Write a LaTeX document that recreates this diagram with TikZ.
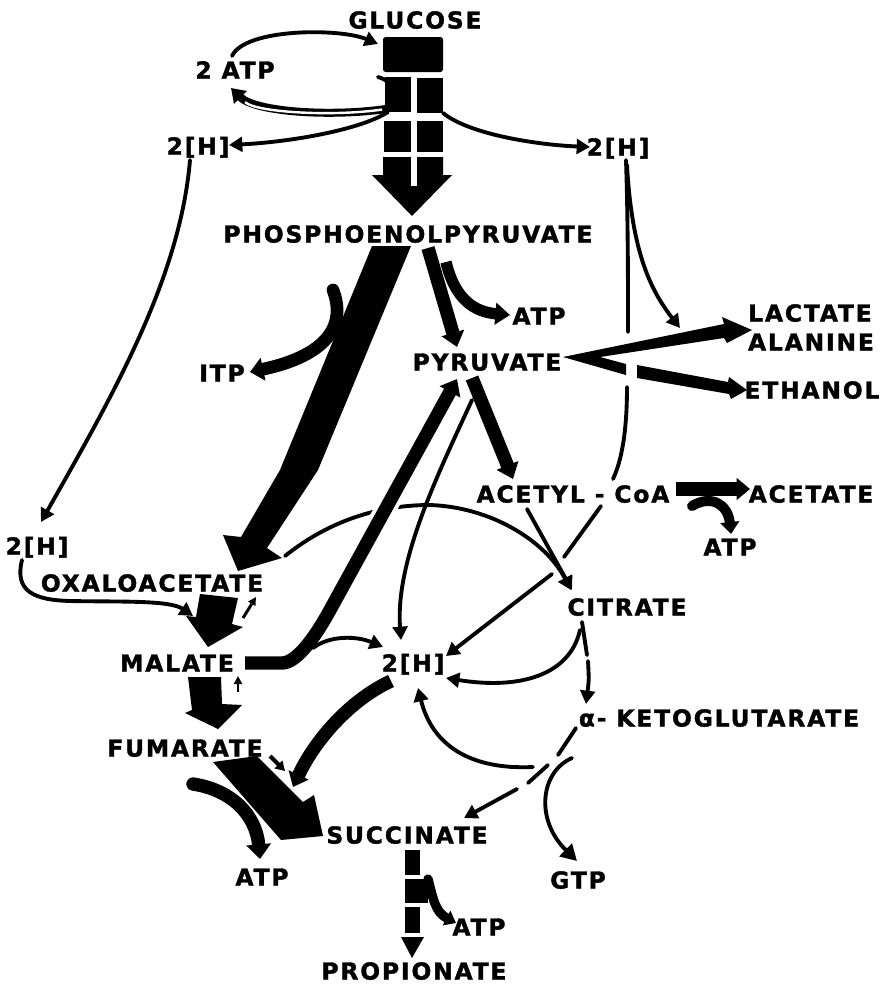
\documentclass[tikz,border=0pt]{standalone}
\usepackage{fontspec}
\setmainfont{DejaVu Sans}[LetterSpace=8, BoldFeatures={FakeBold=1.6}]
\usetikzlibrary{arrows.meta}
\begin{document}
\begin{tikzpicture}[x=0.75pt,y=-0.75pt,
  lab/.style={font=\bfseries\fontsize{17.5}{17.5}\selectfont, inner sep=0pt, text height=12.8pt, text depth=0pt},
  thin/.style={line width=2.9pt, line cap=round, -{Triangle[length=10pt,width=11pt]}},
  plain/.style={line width=2.9pt, line cap=round},
  fat/.style={line width=10pt, -{Triangle[length=11pt,width=17pt]}},
]
\fill[white] (0,0) rectangle (879,985);
\useasboundingbox (0,0) rectangle (879,985);

% ---------- glucose column ----------
\fill[rounded corners=2pt] (383,37) rectangle (443,72);
\fill (385,77) rectangle (411,112);
\fill (417,78) rectangle (443,113);
\fill (384,121) rectangle (411,152);
\fill (417,121) rectangle (443,152);
\fill (383,157) -- (443,157) -- (443,175) -- (452,175) -- (412,216) -- (372,175) -- (383,175) -- cycle;
\fill[white] (411,155) rectangle (417,186);

% ATP loop
\draw[thin] (232,56) .. controls (245,28) and (340,28) .. (378,44);
\draw[plain] (378,77) .. controls (397,82) and (397,102) .. (385,107);
\draw[line width=6pt, -{Triangle[length=10pt,width=13pt]}] (386,109) .. controls (330,117) and (255,112) .. (231,88);
\draw[white, line width=1.8pt, shorten >=15pt, shorten <=3pt] (386,109) .. controls (330,117) and (255,112) .. (231,88);

% 2[H] from glycolysis
\draw[thin] (388,112) .. controls (360,130) and (290,142) .. (229,145);
\draw[thin] (443,113) .. controls (470,135) and (540,145) .. (590,147);
\draw[thin] (190,160) .. controls (180,280) and (110,400) .. (41,522);
\draw[thin] (22,560) .. controls (14,592) and (35,600) .. (70,601) .. controls (120,602) and (170,600) .. (193,616);

% right 2[H] lines
\draw[plain] (626,160) .. controls (628,220) and (628,280) .. (628,332);
\draw[thin] (627,165) .. controls (632,255) and (652,292) .. (680,328);
\draw[plain] (627,387) .. controls (627,430) and (622,460) .. (613,479);
\draw[plain] (601,506) -- (564,557);
\draw[thin] (552,574) -- (446,656);

% PEP -> OAA band
\fill (372,246) -- (411,246) -- (318,470) -- (267,548) -- (282,558) -- (238,571) -- (223,535) -- (241,537) -- (280,470) -- cycle;

% ITP
\draw[line width=9.5pt, line cap=round, -{Triangle[length=10pt,width=17pt]}] (333,290) .. controls (347,327) and (325,356) .. (250,372);

% PEP -> pyruvate, ATP
\draw[fat] (428,248) -- (457,347);
\draw[line width=8.5pt, -{Triangle[length=11pt,width=16pt]}] (446,262) .. controls (455,300) and (475,312) .. (510,315);

% pyruvate -> acetyl-CoA
\draw[fat] (472,378) -- (513,479);

% pyruvate -> lactate/alanine, ethanol
\fill (563,357) -- (724,324) -- (722,317) -- (752,330) -- (727,343) -- (724,338) -- (600,357) -- (626,364) -- (626,375) -- cycle;
\fill (637,365) -- (728,382) -- (729,377) -- (747,390) -- (731,399) -- (729,394) -- (637,378) -- cycle;

% acetyl-CoA -> acetate
\draw[line width=10pt, -{Triangle[length=10pt,width=16pt]}] (676,489) -- (750,489);
\draw[line width=7.5pt, line cap=round, -{Triangle[length=9pt,width=14pt]}] (692,506) .. controls (712,494) and (728,505) .. (731,534);

% OAA -> citrate, acetyl -> citrate
\draw[thin] (285,556) .. controls (330,520) and (380,505) .. (430,505) .. controls (490,507) and (545,540) .. (571,590);
\draw[thin] (527,509) -- (572,590);

% malate -> pyruvate band
\draw[line width=10pt, preaction={draw=white, line width=16pt}, -{Triangle[length=11pt,width=17pt]}] (245,663) -- (282,663) .. controls (298,663) and (318,632) .. (330,610) -- (457,379);

% into central 2[H]
\draw[thin] (472,400) .. controls (440,470) and (395,560) .. (401,640);
\draw[thin] (313,648) .. controls (330,635) and (357,636) .. (383,647);
\draw[thin] (580,630) .. controls (570,675) and (520,690) .. (446,678);

% citrate -> aKG -> succinate
\draw[plain] (582,622) -- (587,655);
\draw[thin] (588,661) .. controls (589,680) .. (586,704);
\draw[plain] (576,728) -- (558,755);
\draw[plain] (548,765) -- (528,783);
\draw[thin] (517,789) -- (464,818);
\draw[thin] (533,767) .. controls (470,770) and (432,745) .. (418,688);
\draw[thin, -{Triangle[length=12pt,width=13pt]}] (572,758) .. controls (540,772) and (535,820) .. (577,861);

% 2[H] -> succinate
\draw[line width=10pt, -{Triangle[length=10pt,width=16pt]}] (391,681) .. controls (350,700) and (315,740) .. (293,787);

% fumarate -> succinate
\fill (213,762) -- (257,756) -- (303,802) -- (314,795) -- (323,836) -- (281,840) -- cycle;
\draw[line width=10pt, line cap=round, -{Triangle[length=11pt,width=18pt]}] (193,784) .. controls (232,790) and (256,815) .. (260,859);
\draw[line width=3pt, -{Triangle[length=7pt,width=8pt]}] (270,756) -- (285,771);

% OAA -> malate -> fumarate
\fill (200,594) -- (238,598) -- (232,624) -- (243,627) -- (208,647) -- (186,616) -- (196,617) -- cycle;
\draw[line width=2.2pt, -{Triangle[length=6pt,width=6pt]}] (243,618) -- (256,597);
\fill (188,677) -- (221,677) -- (222,704) -- (242,705) -- (218,729) -- (185,713) -- (192,710) -- cycle;
\draw[line width=2.2pt, -{Triangle[length=6pt,width=6pt]}] (238,692) -- (238,676);

% succinate -> propionate
\fill (405,850) rectangle (420,875);
\fill (405,879) rectangle (428,903);
\fill (405,907) rectangle (420,933);
\fill (401,937) -- (424,937) -- (412,958) -- cycle;
\draw[line width=7pt, line cap=round, -{Triangle[length=8pt,width=12pt]}] (428,879) .. controls (433,898) and (435,912) .. (456,923);

% ---------- labels ----------
\node[lab] (glc) at (415,20) {GLUCOSE};
\node[lab] (atpA) at (235,70) {2 ATP};
\node[lab] (hL) at (198,146) {2[H]};
\node[lab] (hR) at (618,147) {2[H]};
\node[lab] (pep) at (408,234) {PHOSPHOENOLPYRUVATE};
\node[lab] (itp) at (222,373) {ITP};
\node[lab] (atpB) at (539,316) {ATP};
\node[lab] (pyr) at (487,362) {PYRUVATE};
\node[lab] (lac) at (810,313) {LACTATE};
\node[lab] (ala) at (811,342) {ALANINE};
\node[lab] (eth) at (812,390) {ETHANOL};
\node[lab] (acoa) at (573,494) {ACETYL - CoA};
\node[lab] (act) at (811,494) {ACETATE};
\node[lab] (atpC) at (730,547) {ATP};
\node[lab] (cit) at (627,607) {CITRATE};
\node[lab] (hC) at (413,663) {2[H]};
\node[lab] (akg) at (719,718) {α- KETOGLUTARATE};
\node[lab] (hLL) at (37,546) {2[H]};
\node[lab] (oaa) at (152,583) {OXALOACETATE};
\node[lab] (mal) at (177,663) {MALATE};
\node[lab] (fum) at (185,748) {FUMARATE};
\node[lab] (suc) at (407,835) {SUCCINATE};
\node[lab] (atpD) at (262,877) {ATP};
\node[lab] (gtp) at (578,880) {GTP};
\node[lab] (atpE) at (479,927) {ATP};
\node[lab] (prop) at (414,971) {PROPIONATE};
\end{tikzpicture}
\end{document}
